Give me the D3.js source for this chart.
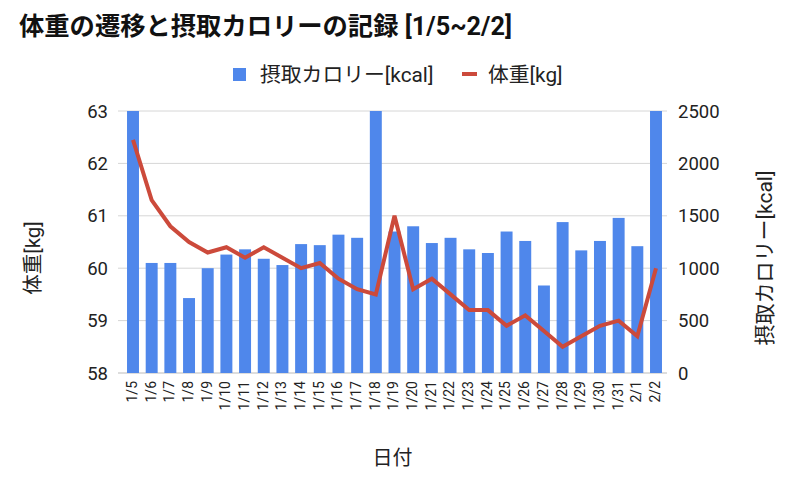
<!DOCTYPE html>
<html><head><meta charset="utf-8">
<script src="https://cdn.jsdelivr.net/npm/d3@7"></script>
<style>body{margin:0;background:#fff;} text{font-family:Roboto,"Noto Sans CJK JP",sans-serif;fill:#222;}</style>
</head><body><svg id="c" width="800" height="487"></svg>
<script>
const dates = ["1/5","1/6","1/7","1/8","1/9","1/10","1/11","1/12","1/13","1/14","1/15","1/16","1/17","1/18","1/19","1/20","1/21","1/22","1/23","1/24","1/25","1/26","1/27","1/28","1/29","1/30","1/31","2/1","2/2"];
const calories = [3000,1050,1050,715,1000,1130,1180,1090,1030,1230,1220,1320,1290,3000,1350,1400,1240,1290,1180,1145,1350,1260,835,1440,1170,1260,1480,1210,3000];
const weights = [62.45,61.3,60.8,60.5,60.3,60.4,60.2,60.4,60.2,60.0,60.1,59.8,59.6,59.5,61.0,59.6,59.8,59.5,59.2,59.2,58.9,59.1,58.8,58.5,58.7,58.9,59.0,58.7,60.0];
const weightTicks = [58,59,60,61,62,63];
const calTicks = [0,500,1000,1500,2000,2500];

const svg = d3.select("#c");
const pTop = 111, pBottom = 373, gl = 118, gr = 667;
const x = d3.scaleBand().domain(dates).range([123.66, 665.34]).paddingInner(0.36).paddingOuter(0.18);
const yW = d3.scaleLinear().domain([58,63]).range([pBottom, pTop]);
const yC = d3.scaleLinear().domain([0,2500]).range([pBottom, pTop]);

svg.append("defs").append("clipPath").attr("id","clip").append("rect")
  .attr("x", gl).attr("y", pTop).attr("width", gr-gl).attr("height", pBottom-pTop);

// gridlines
svg.append("g").selectAll("line").data(weightTicks).join("line")
  .attr("x1", gl).attr("x2", gr).attr("y1", d=>yW(d)).attr("y2", d=>yW(d))
  .attr("stroke", d=> d===58 ? "#bbb" : "#d6d6d6").attr("stroke-width", 1);

// bars
svg.append("g").attr("clip-path","url(#clip)").selectAll("rect").data(calories).join("rect")
  .attr("x", (d,i)=>x(dates[i])).attr("width", x.bandwidth())
  .attr("y", d=>yC(d)).attr("height", d=>pBottom - yC(d))
  .attr("fill", "#4f87eb");

// line
const line = d3.line().x((d,i)=>x(dates[i]) + x.bandwidth()/2).y(d=>yW(d));
svg.append("path").datum(weights).attr("d", line).attr("fill","none")
  .attr("stroke","#cc4a3b").attr("stroke-width",4).attr("stroke-linejoin","miter");

// left axis labels
svg.append("g").selectAll("text").data(weightTicks).join("text")
  .attr("x", 108).attr("y", d=>yW(d)).attr("dy","0.36em").attr("text-anchor","end")
  .style("font-size","18.5px").text(d=>d);
// right axis labels
svg.append("g").selectAll("text").data(calTicks).join("text")
  .attr("x", 678).attr("y", d=>yC(d)).attr("dy","0.36em").attr("text-anchor","start")
  .style("font-size","18.5px").text(d=>d);

// x labels
svg.append("g").selectAll("text").data(dates).join("text")
  .attr("transform", d=>`translate(${x(d)+x.bandwidth()/2 - 1},381) rotate(-90)`)
  .attr("dy","0.35em").attr("text-anchor","end").style("font-size","14px").text(d=>d);

// axis titles
svg.append("text").attr("transform","translate(33,258) rotate(-90)").attr("dy","0.35em").attr("text-anchor","middle")
  .style("font-size","20.5px").text("体重[kg]");
svg.append("text").attr("transform","translate(765,258) rotate(-90)").attr("dy","0.35em").attr("text-anchor","middle")
  .style("font-size","21px").text("摂取カロリー[kcal]");
svg.append("text").attr("x",392.5).attr("y",465).attr("text-anchor","middle")
  .style("font-size","20px").text("日付");

// title
svg.append("text").attr("x",19).attr("y",35).style("font-size","25.3px").style("font-weight","bold")
  .style("fill","#111").text("体重の遷移と摂取カロリーの記録 [1/5~2/2]");

// legend
const lg = svg.append("g");
lg.append("rect").attr("x",233).attr("y",68).attr("width",13).attr("height",13).attr("fill","#4f87eb");
lg.append("text").attr("x",260).attr("y",74.5).attr("dy","0.36em").style("font-size","20.8px").text("摂取カロリー[kcal]");
lg.append("line").attr("x1",462).attr("x2",477).attr("y1",74).attr("y2",74).attr("stroke","#cc4a3b").attr("stroke-width",4);
lg.append("text").attr("x",488).attr("y",74.5).attr("dy","0.36em").style("font-size","20.8px").text("体重[kg]");
</script></body></html>
